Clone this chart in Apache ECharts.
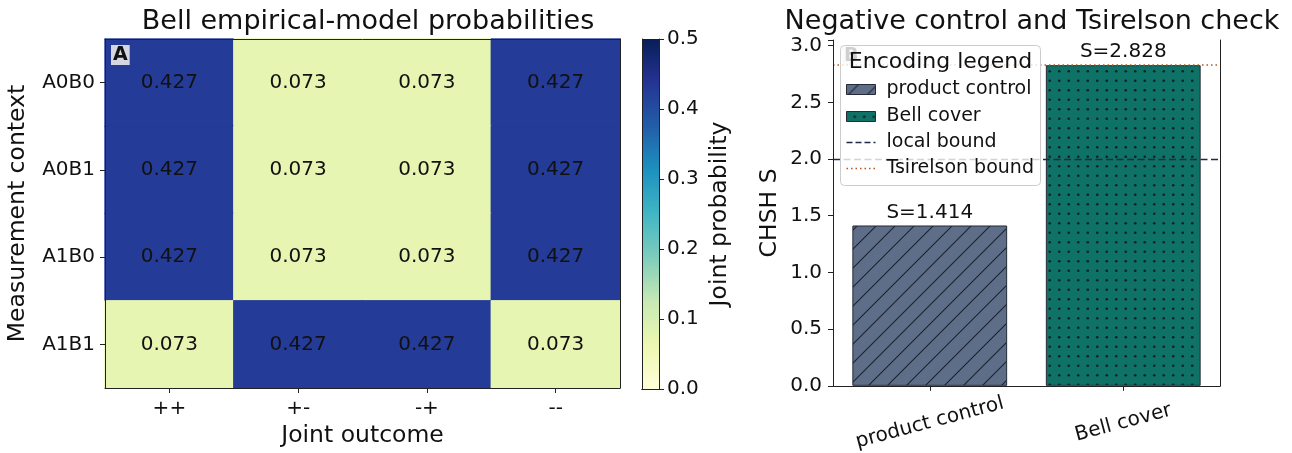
<!DOCTYPE html>
<html><head><meta charset="utf-8">
<script src="https://cdn.jsdelivr.net/npm/echarts@6/dist/echarts.min.js"></script>
<style>html,body{margin:0;padding:0;background:#fff}#c{width:1292px;height:453px}</style>
</head><body><div id="c"></div>
<script>
// ---- data ----
const outcomes = ["++", "+-", "-+", "--"];
const contexts = ["A0B0", "A0B1", "A1B0", "A1B1"];
const probA0B0 = [0.427, 0.073, 0.073, 0.427];
const probA0B1 = [0.427, 0.073, 0.073, 0.427];
const probA1B0 = [0.427, 0.073, 0.073, 0.427];
const probA1B1 = [0.073, 0.427, 0.427, 0.073];
const colorbarTicks = [0.0, 0.1, 0.2, 0.3, 0.4, 0.5];
const barCategories = ["product control", "Bell cover"];
const chshValues = [1.414, 2.828];
const localBound = 2.0;
const tsirelsonBound = 2.828;
const chshTicks = [0.0, 0.5, 1.0, 1.5, 2.0, 2.5, 3.0];

// ---- styling ----
const FONT = "DejaVu Sans";
const YLGNBU = ["#ffffd9","#edf8b1","#c7e9b4","#7fcdbb","#41b6c4","#1d91c0","#225ea8","#253494","#081d58"];
const VMAX = 0.5;
const PRODUCT_COLOR = "#5f6e88";
const BELL_COLOR = "#0f7266";
const EDGE = "#252a36";
const LOCAL_COLOR = "#1f2a44";
const TSIR_COLOR = "#b5561f";

function hatchPattern(bg, fg) {
  const s = 19, c = document.createElement("canvas");
  c.width = s; c.height = s;
  const g = c.getContext("2d");
  g.fillStyle = bg; g.fillRect(0, 0, s, s);
  g.strokeStyle = fg; g.lineWidth = 1.1;
  g.beginPath();
  g.moveTo(-1, s + 1); g.lineTo(s + 1, -1);
  g.moveTo(-2, 2); g.lineTo(2, -2);
  g.moveTo(s - 2, s + 2); g.lineTo(s + 2, s - 2);
  g.stroke();
  return c;
}
function dotPattern(bg, fg) {
  const s = 19, c = document.createElement("canvas");
  c.width = s; c.height = s;
  const g = c.getContext("2d");
  g.fillStyle = bg; g.fillRect(0, 0, s, s);
  g.fillStyle = fg;
  [[4.75, 4.75], [14.25, 4.75], [4.75, 14.25], [14.25, 14.25]].forEach(p => {
    g.beginPath(); g.arc(p[0], p[1], 1.3, 0, Math.PI * 2); g.fill();
  });
  return c;
}
const productFill = { image: hatchPattern(PRODUCT_COLOR, "#1c2230"), repeat: "repeat" };
const bellFill = { image: dotPattern(BELL_COLOR, "#13202a"), repeat: "repeat" };

const probRows = [probA0B0, probA0B1, probA1B0, probA1B1];
const heatData = [];
probRows.forEach((row, yi) => row.forEach((v, xi) => heatData.push({
  value: [xi, yi, v],
  itemStyle: { borderColor: echarts.color.lerp(v / VMAX, YLGNBU), borderWidth: 0.8 }
})));

const axisLineStyle = { show: true, lineStyle: { color: "#222", width: 1 } };
const tickStyle = { show: true, length: 5, lineStyle: { color: "#222" } };
const labelStyle = { color: "#111", fontFamily: FONT, fontSize: 20 };
const nameStyle = { color: "#111", fontFamily: FONT, fontSize: 23.5 };
const frame = (extra) => Object.assign({
  z: 5, axisLine: axisLineStyle, axisTick: { show: false }, axisLabel: { show: false }, splitLine: { show: false }
}, extra);
const leg = (extra) => Object.assign({ z: 12 }, extra);

const chart = echarts.init(document.getElementById("c"), null, { renderer: "canvas" });
chart.setOption({
  animation: false,
  backgroundColor: "#fff",
  title: [
    { text: "Bell empirical-model probabilities", left: 363, top: 3, textAlign: "center",
      textStyle: { fontFamily: FONT, fontSize: 27, fontWeight: "normal", color: "#111" } },
    { text: "Negative control and Tsirelson check", left: 1027, top: 3, textAlign: "center",
      textStyle: { fontFamily: FONT, fontSize: 27, fontWeight: "normal", color: "#111" } }
  ],
  grid: [
    { left: 105, top: 39, width: 515, height: 350 },
    { left: 642, top: 39, width: 17, height: 350 },
    { left: 833, top: 40, width: 387, height: 348 }
  ],
  xAxis: [
    { gridIndex: 0, type: "category", data: outcomes, position: "bottom", z: 5,
      axisLine: axisLineStyle, axisTick: Object.assign({ alignWithLabel: true }, tickStyle),
      axisLabel: Object.assign({ margin: 11 }, labelStyle),
      name: "Joint outcome", nameLocation: "middle", nameGap: 36, nameTextStyle: nameStyle },
    frame({ gridIndex: 0, type: "category", data: outcomes, position: "top" }),
    frame({ gridIndex: 1, type: "category", data: ["cb"], position: "bottom" }),
    frame({ gridIndex: 1, type: "category", data: ["cb"], position: "top" }),
    { gridIndex: 2, type: "category", data: barCategories, position: "bottom", z: 5,
      axisLine: axisLineStyle, axisTick: Object.assign({ alignWithLabel: true }, tickStyle),
      axisLabel: Object.assign({ rotate: 15, align: "center", verticalAlign: "middle", margin: 37 }, labelStyle) },
    frame({ gridIndex: 2, type: "category", data: barCategories, position: "top" })
  ],
  yAxis: [
    { gridIndex: 0, type: "category", data: contexts, inverse: true, position: "left", z: 5,
      axisLine: axisLineStyle, axisTick: Object.assign({ alignWithLabel: true }, tickStyle),
      axisLabel: Object.assign({ margin: 10 }, labelStyle),
      name: "Measurement context", nameLocation: "middle", nameGap: 75, nameRotate: 90, nameTextStyle: nameStyle },
    frame({ gridIndex: 0, type: "category", data: contexts, inverse: true, position: "right" }),
    frame({ gridIndex: 1, type: "value", min: 0, max: VMAX, position: "left" }),
    { gridIndex: 1, type: "value", min: 0, max: VMAX, interval: 0.1, position: "right", z: 5,
      axisLine: axisLineStyle, axisTick: tickStyle, splitLine: { show: false },
      axisLabel: Object.assign({ margin: 8, formatter: v => colorbarTicks.some(t => Math.abs(t - v) < 1e-9) ? v.toFixed(1) : "" }, labelStyle),
      name: "Joint probability", nameLocation: "middle", nameGap: 49, nameRotate: 90, nameTextStyle: nameStyle },
    { gridIndex: 2, type: "value", min: 0, max: 3.05, interval: 0.5, position: "left", z: 5,
      axisLine: axisLineStyle, axisTick: tickStyle, splitLine: { show: false },
      axisLabel: Object.assign({ margin: 11, formatter: v => chshTicks.some(t => Math.abs(t - v) < 1e-9) ? v.toFixed(1) : "" }, labelStyle),
      name: "CHSH S", nameLocation: "middle", nameGap: 51, nameRotate: 90, nameTextStyle: nameStyle },
    frame({ gridIndex: 2, type: "value", min: 0, max: 3.05, position: "right" })
  ],
  visualMap: { show: false, type: "continuous", min: 0, max: VMAX, seriesIndex: 0, inRange: { color: YLGNBU } },
  series: [
    { type: "heatmap", xAxisIndex: 0, yAxisIndex: 0, data: heatData,
      label: { show: true, formatter: p => p.value[2].toFixed(3), color: "#111", fontFamily: FONT, fontSize: 20 },
      emphasis: { disabled: true } },
    { type: "bar", xAxisIndex: 2, yAxisIndex: 2, data: [VMAX], barWidth: "100%", silent: true,
      itemStyle: { color: new echarts.graphic.LinearGradient(0, 0, 0, 1,
        YLGNBU.slice().reverse().map((c, i, a) => ({ offset: i / (a.length - 1), color: c }))) } },
    { type: "bar", xAxisIndex: 4, yAxisIndex: 4, barWidth: "80%", z: 2,
      data: chshValues.map((v, i) => ({ value: v, itemStyle: { color: i === 0 ? productFill : bellFill, borderColor: EDGE, borderWidth: 1 } })),
      label: { show: true, position: "top", distance: 3, formatter: p => "S=" + p.value.toFixed(3), color: "#111", fontFamily: FONT, fontSize: 20 },
      markLine: { silent: true, symbol: "none", label: { show: false }, z: 3,
        data: [
          { yAxis: localBound, lineStyle: { color: LOCAL_COLOR, type: [7, 3.5], width: 1.3 } },
          { yAxis: tsirelsonBound, lineStyle: { color: TSIR_COLOR, type: [1.5, 3], width: 1.6 } }
        ] } }
  ],
  graphic: [
    { type: "text", left: 111, top: 45, z: 20,
      style: { text: "A", fontFamily: FONT, fontSize: 19, fontWeight: "bold", fill: "#111",
        backgroundColor: "rgba(232,232,232,0.9)", padding: [1, 2, 0, 2] } },
    { type: "text", left: 842, top: 46, z: 1,
      style: { text: "B", fontFamily: FONT, fontSize: 19, fontWeight: "bold", fill: "#111",
        backgroundColor: "rgba(232,232,232,0.9)", padding: [1, 2, 0, 2] } },
    { type: "group", left: 840, top: 45, z: 10, children: [
      leg({ type: "rect", shape: { x: 0, y: 0, width: 200, height: 140, r: 4 },
        style: { fill: "rgba(255,255,255,0.8)", stroke: "#cccccc", lineWidth: 1 } }),
      leg({ type: "text", x: 100, y: 17, style: { text: "Encoding legend", fontFamily: FONT, fontSize: 22, fill: "#111", align: "center", verticalAlign: "middle" } }),
      leg({ type: "rect", shape: { x: 6, y: 39, width: 29, height: 10 }, style: { fill: productFill, stroke: EDGE, lineWidth: 1 } }),
      leg({ type: "text", x: 46, y: 44, style: { text: "product control", fontFamily: FONT, fontSize: 19, fill: "#111", verticalAlign: "middle" } }),
      leg({ type: "rect", shape: { x: 6, y: 66, width: 29, height: 10 }, style: { fill: bellFill, stroke: EDGE, lineWidth: 1 } }),
      leg({ type: "text", x: 46, y: 71, style: { text: "Bell cover", fontFamily: FONT, fontSize: 19, fill: "#111", verticalAlign: "middle" } }),
      leg({ type: "line", shape: { x1: 6, y1: 97, x2: 35, y2: 97 }, style: { stroke: LOCAL_COLOR, lineWidth: 1.5, lineDash: [6, 3] } }),
      leg({ type: "text", x: 46, y: 97, style: { text: "local bound", fontFamily: FONT, fontSize: 19, fill: "#111", verticalAlign: "middle" } }),
      leg({ type: "line", shape: { x1: 6, y1: 123, x2: 35, y2: 123 }, style: { stroke: TSIR_COLOR, lineWidth: 1.6, lineDash: [1.5, 3] } }),
      leg({ type: "text", x: 46, y: 123, style: { text: "Tsirelson bound", fontFamily: FONT, fontSize: 19, fill: "#111", verticalAlign: "middle" } })
    ] }
  ]
});
</script></body></html>
